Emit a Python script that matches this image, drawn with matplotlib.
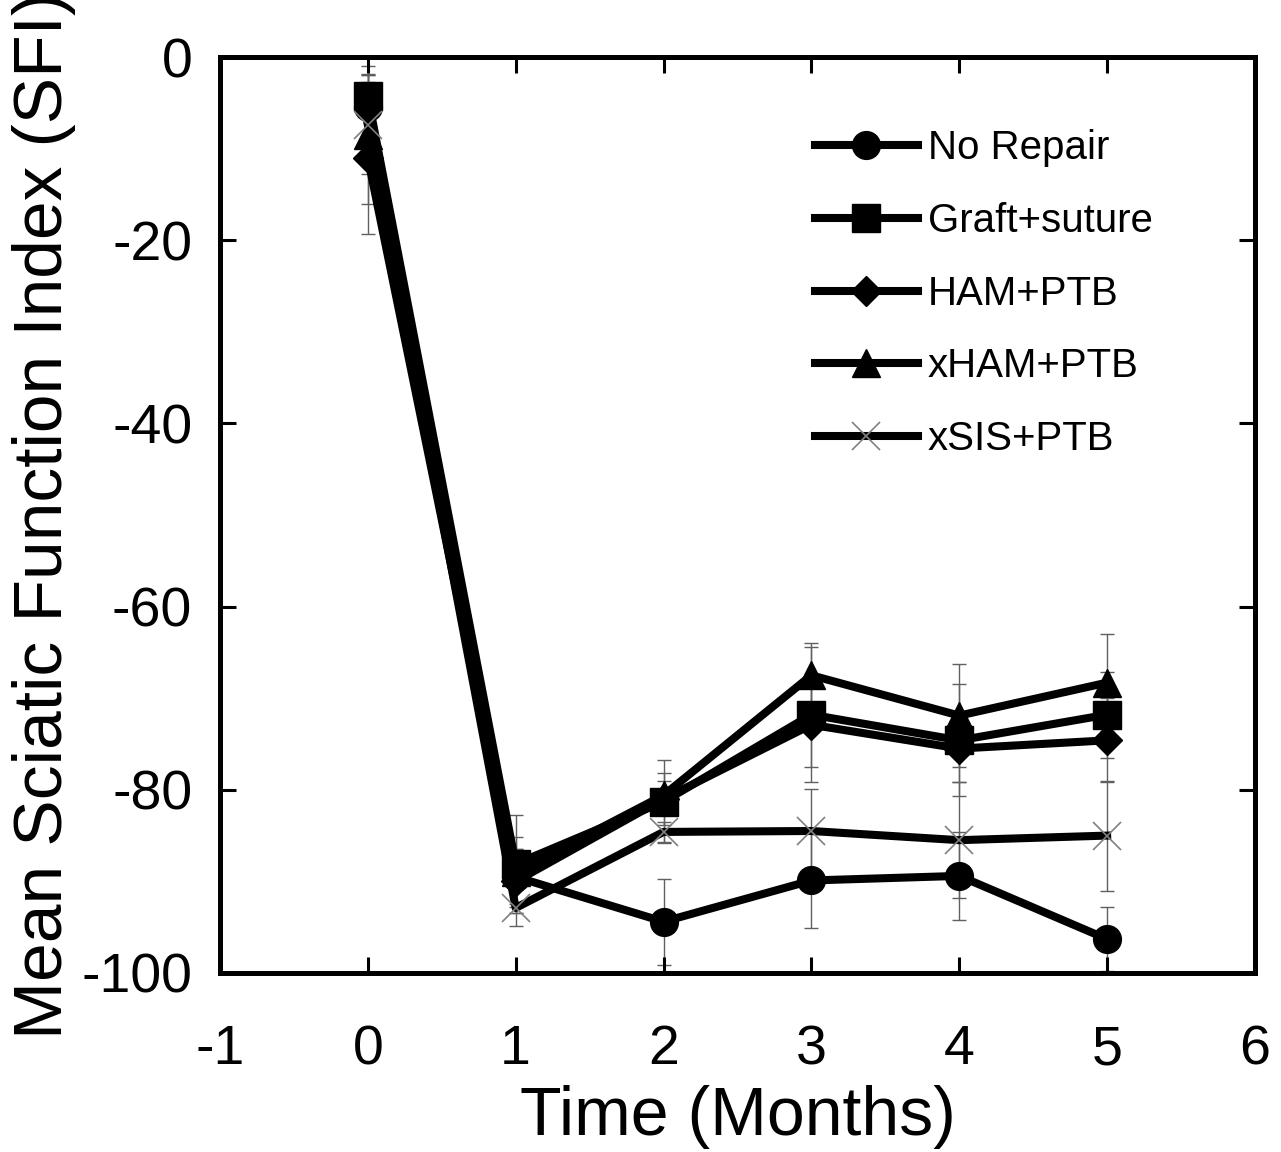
import matplotlib
matplotlib.use('Agg')
from matplotlib import pyplot

pyplot.rcParams['font.family'] = ['Liberation Sans', 'DejaVu Sans']
pyplot.rcParams['axes.unicode_minus'] = False

MONTHS = [0, 1, 2, 3, 4, 5]

NO_REPAIR = [-5.5, -89.5, -94.4, -89.9, -89.4, -96.3]
NO_REPAIR_ERR = [3.5, 3.0, 4.7, 5.2, 4.8, 3.5]
GRAFT = [-4.3, -88.1, -81.3, -71.8, -74.6, -71.8]
GRAFT_ERR = [2.5, 5.3, 4.5, 7.4, 6.1, 4.7]
HAM = [-11.0, -90.0, -81.0, -72.9, -75.5, -74.6]
HAM_ERR = [8.3, 3.5, 2.8, 4.6, 3.6, 4.6]
XHAM = [-8.5, -89.0, -80.6, -67.5, -71.9, -68.3]
XHAM_ERR = [7.5, 3.8, 1.6, 3.5, 5.6, 5.3]
XSIS = [-7.4, -92.9, -84.6, -84.5, -85.5, -85.0]
XSIS_ERR = [5.4, 2.0, 1.1, 4.6, 6.3, 6.0]

LABELS = ['No Repair', 'Graft+suture', 'HAM+PTB', 'xHAM+PTB', 'xSIS+PTB']

ERR_COLOR = '#606060'


def main():
  fig = pyplot.figure(figsize=(12.81, 11.52), dpi=100)
  ax = fig.add_axes([0.1717, 0.1554, 0.808, 0.7951])

  series = [
      (NO_REPAIR, NO_REPAIR_ERR, dict(marker='o', ms=20)),
      (GRAFT, GRAFT_ERR, dict(marker='s', ms=20)),
      (HAM, HAM_ERR, dict(marker='D', ms=15)),
      (XHAM, XHAM_ERR, dict(marker='^', ms=20)),
      (XSIS, XSIS_ERR, dict(marker='x', ms=20, mec='#808080', mew=1.2)),
  ]
  for (values, errors, style), label in zip(series, LABELS):
    ax.errorbar(MONTHS, values, yerr=errors, fmt='none', ecolor=ERR_COLOR,
                elinewidth=1, capsize=4.7, capthick=1, zorder=1)
    ax.plot(MONTHS, values, color='black', lw=5.8, mfc='black',
            label=label, zorder=2, **style)

  ax.set_xlim(-1, 6)
  ax.set_ylim(-100, 0)
  ax.set_xticks(range(-1, 7))
  ax.set_yticks(range(-100, 1, 20))
  ax.tick_params(direction='in', length=11.5, width=2.2, labelsize=40,
                 top=True, right=True)
  ax.tick_params(axis='x', pad=37)
  ax.tick_params(axis='y', pad=20)
  for spine in ax.spines.values():
    spine.set_linewidth(3.6)

  ax.set_xlabel('Time (Months)', fontsize=49, labelpad=6)
  ax.set_ylabel('Mean Sciatic Function Index (SFI)', fontsize=50, labelpad=4)

  ax.legend(loc='upper left', bbox_to_anchor=(0.575, 0.921), frameon=False,
            fontsize=29, handlelength=2.55, handletextpad=0.25,
            labelspacing=0.86, borderaxespad=0, borderpad=0)

  fig.savefig('out.png', dpi=100)


if __name__ == '__main__':
  main()
